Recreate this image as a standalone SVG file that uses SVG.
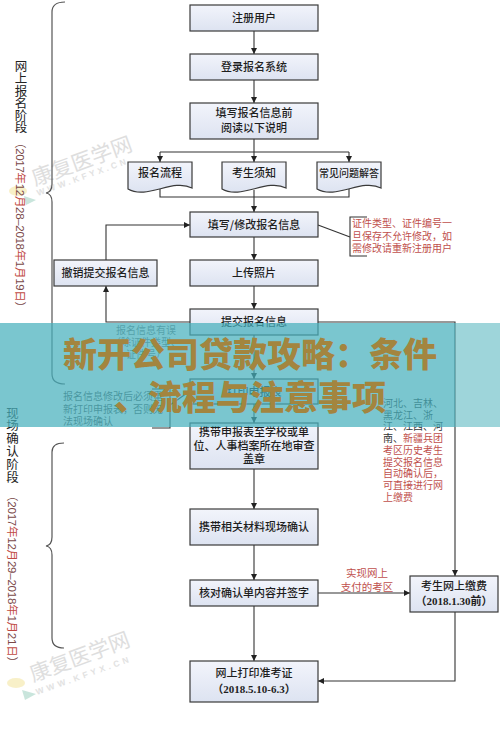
<svg xmlns="http://www.w3.org/2000/svg" width="500" height="751" viewBox="0 0 500 751">
<defs>
<linearGradient id="bg" x1="0" y1="0" x2="0" y2="1"><stop offset="0" stop-color="#f2f4fb"/><stop offset="1" stop-color="#dde3f1"/></linearGradient>
<marker id="a" viewBox="0 0 8 8" refX="8" refY="4" markerWidth="6" markerHeight="6" orient="auto" markerUnits="userSpaceOnUse"><path d="M0,0 L8,4 L0,8 z" fill="#222"/></marker>
<style>
.box{fill:url(#bg);stroke:#3a3a3a;stroke-width:1.2}
.t{font-family:"Noto Sans CJK SC","Noto Sans",sans-serif;font-size:11px;font-weight:500;fill:#1e1e1e;text-anchor:middle}
.tb{font-family:"Liberation Serif","Noto Sans CJK SC",serif;font-size:11px;font-weight:bold;fill:#1e1e1e;text-anchor:middle}
.c{fill:none;stroke:#333;stroke-width:1.1}
.ca{fill:none;stroke:#333;stroke-width:1.1;marker-end:url(#a)}
.brace{fill:none;stroke:#555;stroke-width:1.2}
.red{font-family:"Noto Sans CJK SC",sans-serif;font-size:10px;fill:#c0504d}
.gray{font-family:"Noto Sans CJK SC",sans-serif;font-size:10px;fill:#555}
.dark{fill:#333}
.lab{font-family:"Noto Sans CJK SC",sans-serif;font-size:12.5px;fill:#222;text-anchor:middle}
.date{font-family:"Liberation Sans","Noto Sans CJK SC",sans-serif;font-size:11.5px;fill:#7a4848}
.dr{fill:#bf4a42}
.wm{font-family:"Noto Sans CJK SC",sans-serif;font-size:21px;fill:#dedede}
.wm2{font-family:"Liberation Sans",sans-serif;font-size:8.5px;font-weight:bold;fill:#e2e2e2}
.title{font-family:"Noto Sans CJK SC",sans-serif;font-size:34px;font-weight:900;fill:#a3853f;text-anchor:middle}
</style>
</defs>
<rect width="500" height="751" fill="#ffffff"/>

<!-- watermarks -->
<g id="watermark1">
<ellipse cx="18" cy="191" rx="9" ry="5" fill="#f3e39a" opacity="0.55"/>
<path d="M24,196 L36,200 L26,205 Z" fill="#9ccfc0" opacity="0.55"/>
<text class="wm" transform="translate(35,186) rotate(-20)">康复医学网</text>
<text class="wm2" transform="translate(38,196) rotate(-19.8)" textLength="94" lengthAdjust="spacing">WWW.KFYX.CN</text>
</g>
<g id="watermark2">
<ellipse cx="16" cy="683" rx="9" ry="5" fill="#f3e39a" opacity="0.55"/>
<path d="M22,690 L36,694 L25,700 Z" fill="#9ccfc0" opacity="0.55"/>
<text class="wm" transform="translate(33,682) rotate(-20.3)">康复医学网</text>
<text class="wm2" transform="translate(37,695) rotate(-19.5)" textLength="98" lengthAdjust="spacing">WWW.KFYX.CN</text>
</g>

<!-- stage labels -->
<g id="stage1">
<text class="lab" x="21 21 21 21 21 21" y="71 83.2 95.5 107.8 120 132.3">网上报名阶段</text>
<text class="date" transform="translate(20,137) rotate(90)" dominant-baseline="central" textLength="176" lengthAdjust="spacing">（2017<tspan class="dr">年</tspan>12<tspan class="dr">月</tspan>28–2018<tspan class="dr">年</tspan>1<tspan class="dr">月</tspan>19<tspan class="dr">日</tspan>）</text>
<path class="brace" d="M65,2 Q52,2 52,12 V184 Q52,192 46,193 Q52,194 52,202 V374 Q52,384 65,384"/>
</g>
<g id="stage2">
<text class="lab" x="12.5 12.5 12.5 12.5 12.5 12.5" y="417.5 430.3 443.1 455.9 468.7 481.5">现场确认阶段</text>
<text class="date" transform="translate(12,490) rotate(90)" dominant-baseline="central" textLength="178" lengthAdjust="spacing">（2017<tspan class="dr">年</tspan>12<tspan class="dr">月</tspan>29–2018<tspan class="dr">年</tspan>1<tspan class="dr">月</tspan>21<tspan class="dr">日</tspan>）</text>
<path class="brace" d="M64,443 Q52,443 52,452 V537 Q52,545 46,546 Q52,547 52,555 V638 Q52,648 64,648"/>
</g>

<!-- connectors -->
<g id="connectors">
<path class="ca" d="M254,31 V54"/>
<path class="ca" d="M254,80 V103"/>
<path class="ca" d="M254,139 V162"/>
<path class="c" d="M160,152 H349"/>
<path class="ca" d="M160,152 V162"/>
<path class="ca" d="M349,152 V162"/>
<path class="c" d="M160,189 V197 H349 V188"/>
<path class="ca" d="M254,190 V212"/>
<path class="ca" d="M254,237 V260"/>
<path class="ca" d="M254,286 V309"/>
<path class="ca" d="M254,335 V379"/>
<path class="ca" d="M254,404 V423"/>
<path class="ca" d="M254,469 V509"/>
<path class="ca" d="M254,545 V580"/>
<path class="ca" d="M254,606 V661"/>
<path class="ca" d="M318,593 H410"/>
<path class="ca" d="M318,322 H455 V576"/>
<path class="ca" d="M455,612 V681 H318"/>
<path class="ca" d="M190,322 H106 V286"/>
<path class="ca" d="M106,260 V225 H190"/>
<path class="c" d="M318,225 L350,237"/>
<path class="c" d="M367,217 H350 V256 H367"/>
<path class="c" d="M152,389 H170 V428 H152"/>
<path class="c" d="M170,405 L190,391"/>
</g>

<!-- nodes -->
<g id="n1"><rect class="box" x="190" y="5" width="128" height="26"/><text class="t" x="254" y="22">注册用户</text></g>
<g id="n2"><rect class="box" x="190" y="54" width="128" height="26"/><text class="t" x="254" y="71">登录报名系统</text></g>
<g id="n3"><rect class="box" x="190" y="103" width="128" height="36"/><text class="t" x="254" y="117">填写报名信息前</text><text class="t" x="254" y="132">阅读以下说明</text></g>
<g id="d1"><path class="box" d="M128,162 H192 V188 C173,178 147,200 128,189 Z"/><text class="t" x="160" y="177">报名流程</text></g>
<g id="d2"><path class="box" d="M222,162 H286 V188 C267,178 241,200 222,189 Z"/><text class="t" x="254" y="177">考生须知</text></g>
<g id="d3"><path class="box" d="M317,162 H381 V188 C362,178 336,200 317,189 Z"/><text class="t" x="349" y="177" style="font-size:10px">常见问题解答</text></g>
<g id="n4"><rect class="box" x="190" y="212" width="128" height="25"/><text class="t" x="254" y="228.5">填写/修改报名信息</text></g>
<g id="n5"><rect class="box" x="54" y="260" width="103" height="26"/><text class="t" x="105.5" y="277">撤销提交报名信息</text></g>
<g id="n6"><rect class="box" x="190" y="260" width="128" height="26"/><text class="t" x="254" y="277">上传照片</text></g>
<g id="n7"><rect class="box" x="190" y="309" width="128" height="26"/><text class="t" x="254" y="326">提交报名信息</text></g>
<g id="n8"><rect class="box" x="190" y="379" width="128" height="25"/><text class="t" x="254" y="395.5">打印申报表</text></g>
<g id="n9"><rect class="box" x="190" y="423" width="128" height="46"/><text class="t" x="254" y="436">携带申报表至学校或单</text><text class="t" x="254" y="449.5">位、人事档案所在地审查</text><text class="t" x="254" y="463">盖章</text></g>
<g id="n10"><rect class="box" x="190" y="509" width="128" height="36"/><text class="t" x="254" y="531">携带相关材料现场确认</text></g>
<g id="n11"><rect class="box" x="190" y="580" width="128" height="26"/><text class="t" x="254" y="597">核对确认单内容并签字</text></g>
<g id="n12"><rect class="box" x="410" y="576" width="88" height="36"/><text class="t" x="454" y="590">考生网上缴费</text><text class="tb" x="454" y="605">（2018.1.30前）</text></g>
<g id="n13"><rect class="box" x="190" y="661" width="128" height="41"/><text class="t" x="254" y="677">网上打印准考证</text><text class="tb" x="254" y="693">（2018.5.10-6.3）</text></g>

<!-- notes -->
<g id="note1">
<text class="red" x="352" y="227">证件类型、证件编号一</text>
<text class="red" x="352" y="240">旦保存不允许修改，如</text>
<text class="red" x="352" y="252">需修改请重新注册用户</text>
</g>
<g id="note2">
<text class="gray" x="146" y="334" text-anchor="middle" style="fill:#777">报名信息有误</text>
<text class="gray" x="146" y="346" text-anchor="middle" style="fill:#777">（除证件类型、</text>
<text class="gray" x="146" y="358" text-anchor="middle" style="fill:#777">证件号）</text>
</g>
<g id="note3">
<text class="gray" x="63" y="400">报名信息修改后必须重</text>
<text class="gray" x="63" y="413">新打印申报表，否则无</text>
<text class="gray" x="63" y="425">法现场确认</text>
</g>
<g id="note4">
<text class="red" x="383" y="407"><tspan class="dark">河北、吉林、</tspan></text>
<text class="red" x="383" y="418.7"><tspan class="dark">黑龙江、浙</tspan></text>
<text class="red" x="383" y="430.4"><tspan class="dark">江、江西、河</tspan></text>
<text class="red" x="383" y="442.1"><tspan class="dark">南、</tspan>新疆兵团</text>
<text class="red" x="383" y="453.8">考区历史考生</text>
<text class="red" x="383" y="465.5">提交报名信息</text>
<text class="red" x="383" y="477.2">自动确认后，</text>
<text class="red" x="383" y="488.9">可直接进行网</text>
<text class="red" x="383" y="500.6">上缴费</text>
</g>
<g id="note5">
<text class="red" x="367" y="577" text-anchor="middle" style="font-size:10.5px">实现网上</text>
<text class="red" x="367" y="590.5" text-anchor="middle" style="font-size:10.5px">支付的考区</text>
</g>

<!-- banner overlay -->
<g id="banner">
<rect x="0" y="323" width="455" height="104" fill="#47b0bc" opacity="0.72"/>
<rect x="455" y="323" width="45" height="104" fill="#62bcc4" opacity="0.62"/>
<text class="title" x="250" y="367">新开公司贷款攻略：条件</text>
<text class="title" x="250" y="410">、流程与注意事项</text>
</g>
</svg>
